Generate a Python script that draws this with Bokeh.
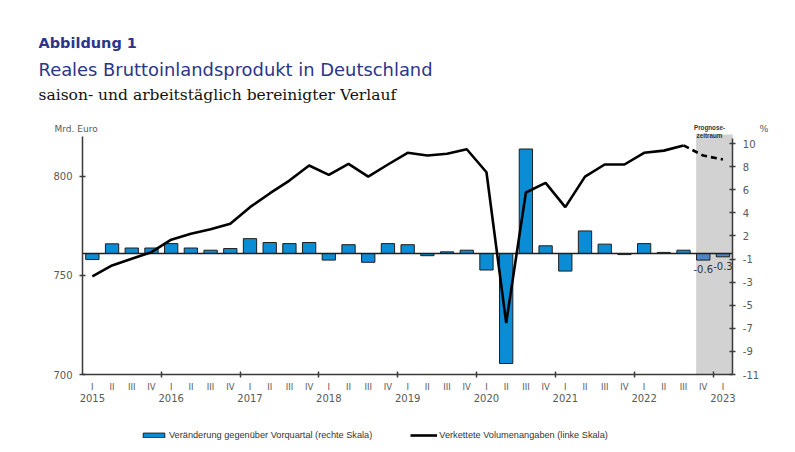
from bokeh.plotting import figure
from bokeh.models import (Range1d, LinearAxis, FixedTicker, BoxAnnotation,
                          Label, Legend, LegendItem, ColumnDataSource)
from bokeh.core.properties import value
from bokeh.embed import file_html
from bokeh.resources import INLINE

# ---------------- data ----------------
quarters = ["I", "II", "III", "IV"] * 8 + ["I"]
years = ["2015", "2016", "2017", "2018", "2019", "2020", "2021", "2022", "2023"]
# quarter-on-quarter change, % (right scale)
change_pct = [-0.55, 0.88, 0.5, 0.5, 0.9, 0.5, 0.3, 0.45,
              1.35, 1.0, 0.9, 1.0, -0.6, 0.8, -0.8, 0.9,
              0.8, -0.2, 0.15, 0.3, -1.5, -10.0, 9.5, 0.7,
              -1.6, 2.05, 0.85, -0.1, 0.9, 0.1, 0.3, -0.6, -0.3]
# chained volumes, bn euro (left scale)
gdp_bn = [749.5, 755.0, 758.4, 761.7, 768.0, 771.0, 773.2, 776.0,
          784.4, 791.3, 797.8, 805.4, 800.7, 806.2, 799.8, 805.9,
          811.8, 810.4, 811.3, 813.6, 802.0, 726.0, 791.8, 796.6,
          784.4, 799.8, 805.9, 805.9, 811.8, 812.9, 815.5, 810.4, 808.4]
n_forecast = 2
left_min, left_max = 700, 820
left_ticks = [700, 750, 800]
pct_min, pct_max, pct_step = -11, 10.5, 2.1
pct_tick_labels = ["-11", "-9", "-7", "-5", "-3", "-1", "2", "4", "6", "8", "10"]
forecast_start = 31.14

n = len(change_pct)
xs = [i + 0.5 for i in range(n)]
n_act = n - n_forecast
year_x = xs[::4]

# ---------------- page geometry (pixels) ----------------
W, H = 795, 452
FL, FR, FT, FB = 36, 768, 0, 442          # frame edges
X0_PX, X1_PX = 82.0, 732.3                # where x = 0 and x = n are drawn
BASE_PX = 374.0                           # where left 700 / right -11 are drawn
LEFT_PPU, PCT_PPU = 1.983, 11.0           # pixels per unit
x_per = (X1_PX - X0_PX) / n

def dx(px):
    return (px - X0_PX) / x_per

def dy(py):
    return left_min + (BASE_PX - py) / LEFT_PPU

AX = "#3a3a3a"
LBL = "#595959"
FONT = "DejaVu Sans"
NAVY = "#2b358a"

p = figure(width=W, height=H,
           x_range=Range1d(dx(FL), dx(FR)), y_range=Range1d(dy(FB), dy(FT)),
           x_axis_type=None, y_axis_type=None, output_backend="svg",
           toolbar_location=None, min_border_left=FL, min_border_right=W - FR,
           min_border_top=FT, min_border_bottom=H - FB, outline_line_color=None)
p.extra_y_ranges = {"pct": Range1d(pct_min - (FB - BASE_PX) / PCT_PPU,
                                   pct_min + (BASE_PX - FT) / PCT_PPU)}

p.add_layout(BoxAnnotation(left=forecast_start, right=n, bottom=left_min, top=left_max + 1,
                           fill_color="#d2d2d2", fill_alpha=1, line_color=None,
                           level="underlay"))

src_a = ColumnDataSource(dict(x=xs[:n_act], top=change_pct[:n_act]))
src_f = ColumnDataSource(dict(x=xs[n_act:], top=change_pct[n_act:],
                              lab=[f"{v:.1f}" for v in change_pct[n_act:]]))
bars = p.vbar(x="x", top="top", bottom=0, width=0.675, source=src_a, y_range_name="pct",
              fill_color="#0b8dd5", line_color="#1e1e1e", line_width=1)
p.vbar(x="x", top="top", bottom=0, width=0.675, source=src_f, y_range_name="pct",
       fill_color="#4d86c4", line_color="#1e1e1e", line_width=1)
p.text(x="x", y="top", text="lab", source=src_f, y_range_name="pct",
       text_align="center", text_baseline="top", y_offset=5,
       text_font=value(FONT), text_font_size="10px", text_color="#333333")

# zero line of the bar scale
p.segment(x0=0, y0=0, x1=n, y1=0, y_range_name="pct", line_color="#1e1e1e", line_width=1.5)

solid = p.line(xs[:n_act], gdp_bn[:n_act], line_color="black", line_width=2.6)
p.line(xs[n_act - 1:], gdp_bn[n_act - 1:], line_color="black", line_width=2.6,
       line_dash="6 4")

def style(ax, size="10px"):
    ax.axis_line_color = AX
    ax.axis_line_width = 1.5
    ax.major_tick_line_color = AX
    ax.major_tick_line_width = 1.5
    ax.minor_tick_line_color = None
    ax.major_label_text_font = FONT
    ax.major_label_text_font_size = size
    ax.major_label_text_color = LBL
    ax.major_tick_in = 3
    ax.major_tick_out = 3
    ax.major_label_standoff = 7

yl = LinearAxis(ticker=FixedTicker(ticks=left_ticks), fixed_location=0,
                bounds=(left_min, left_max))
style(yl)
p.add_layout(yl, "left")

pct_ticks = [round(pct_min + pct_step * k, 1) for k in range(len(pct_tick_labels))]
yr = LinearAxis(y_range_name="pct", ticker=FixedTicker(ticks=pct_ticks), fixed_location=n,
                bounds=(pct_min, pct_max),
                major_label_overrides={t: l for t, l in zip(pct_ticks, pct_tick_labels)})
style(yr)
p.add_layout(yr, "right")

# bottom axis: line + year-boundary ticks (quarter / year names drawn below it)
year_bounds = [float(k) for k in range(4, n, 4)]
xb = LinearAxis(ticker=FixedTicker(ticks=year_bounds), fixed_location=left_min,
                bounds=(0, n), major_label_overrides={t: "" for t in year_bounds})
style(xb, "0px")
xb.major_label_standoff = 0
p.add_layout(xb, "below")

p.text(x=xs, y=[left_min] * n, text=quarters, text_align="center", text_baseline="top",
       y_offset=7, text_font=value(FONT), text_font_size="8.5px", text_color=LBL)
p.text(x=year_x, y=[left_min] * len(year_x), text=years, text_align="center",
       text_baseline="top", y_offset=19, text_font=value(FONT), text_font_size="10px",
       text_color=LBL)

def lab(text, px, py, size, font=FONT, color=LBL, style="normal", align="left"):
    p.add_layout(Label(x=dx(px), y=dy(py), text=text, text_font=font,
                       text_font_size=size, text_color=color, text_font_style=style,
                       text_align=align, text_baseline="alphabetic"))

lab("Abbildung 1", 38, 42, "14.5px", color=NAVY, style="bold")
lab("Reales Bruttoinlandsprodukt in Deutschland", 38, 68.5, "17.9px", color=NAVY)
lab("saison- und arbeitstäglich bereinigter Verlauf", 38, 94.5, "15.5px",
    font="DejaVu Serif", color="#111111")
lab("Mrd. Euro", 54, 128, "9px")
lab("%", 759, 128, "9.5px")
lab("Prognose-", 709, 126.5, "6.3px", font="Liberation Sans", color="#333333",
    style="bold", align="center")
lab("zeitraum", 709, 135, "6.3px", font="Liberation Sans", color="#333333",
    style="bold", align="center")

legend = Legend(items=[
    LegendItem(label="Veränderung gegenüber Vorquartal (rechte Skala)", renderers=[bars]),
    LegendItem(label="Verkettete Volumenangaben (linke Skala)", renderers=[solid])],
    orientation="horizontal", location=(140 - FL, FB - 440.5), glyph_width=27,
    glyph_height=6, label_height=12, label_standoff=2, spacing=38, padding=0, margin=0,
    border_line_color=None, background_fill_alpha=0,
    label_text_font="Liberation Sans", label_text_font_size="9.2px",
    label_text_color="#333333")
p.add_layout(legend, "center")

open("out.html", "w").write(file_html(p, INLINE))
